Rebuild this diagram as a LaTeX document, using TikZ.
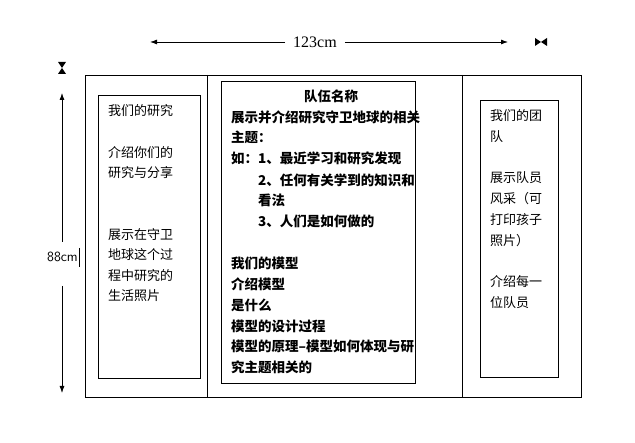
\documentclass[tikz,border=0pt]{standalone}
\usepackage{fontspec}
\usetikzlibrary{arrows.meta}
\newfontfamily\cjk{Noto Sans CJK SC}
\setmainfont{Liberation Serif}
\begin{document}
\begin{tikzpicture}[x=1pt,y=-1pt,
  t/.style={anchor=west,inner sep=0pt,font=\cjk\fontsize{13}{15}\selectfont},
  tb/.style={anchor=west,inner sep=0pt,font=\cjk\bfseries\fontsize{13.5}{15}\selectfont},
  box/.style={draw,line width=0.8pt},
  arr/.style={-{Latex[length=7pt,width=5pt]},line width=0.8pt}]
\useasboundingbox (0,0) rectangle (635,443);
% dimension arrows
\node[inner sep=0pt,font=\fontsize{16}{18}\selectfont] (w) at (315,42) {123cm};
\coordinate (wl) at (150,42); \coordinate (wr) at (508,42);
\draw[arr] ([xshift=-8pt]w.west) -- (wl);
\draw[arr] ([xshift=8pt]w.east) -- (wr);
\fill (535,38) -- (541,42) -- (535,46) -- cycle;
\fill (547,38) -- (541,42) -- (547,46) -- cycle;
\fill (58,62) -- (66,62) -- (62,68) -- cycle;
\fill (58,74) -- (66,74) -- (62,68) -- cycle;
\node[inner sep=0pt,anchor=east,font=\sffamily\fontsize{14}{16}\selectfont] (h) at (78,257) {88cm};
\draw[line width=1pt] (79,248) -- (79,267);
\coordinate (ht) at (62,93); \coordinate (hb) at (62,393);
\coordinate (hm1) at (62,242); \coordinate (hm2) at (62,286);
\draw[arr] (hm1) -- (ht);
\draw[arr] (hm2) -- (hb);
% boxes
\draw[box] (85,75) rectangle (581,397);
\draw[line width=0.8pt] (207,75) -- (207,397);
\draw[line width=0.8pt] (462,75) -- (462,397);
\draw[box] (98,95) rectangle (200,378);
\draw[box] (221,81) rectangle (415,383);
\draw[box] (480,100) rectangle (558,377);
% left text
\node[t] (l1) at (108,111) {我们的研究};
\node[t] (l2) at (108,153) {介绍你们的};
\node[t] (l3) at (108,173) {研究与分享};
\node[t] (l4) at (108,235) {展示在守卫};
\node[t] (l5) at (108,255) {地球这个过};
\node[t] (l6) at (108,276) {程中研究的};
\node[t] (l7) at (108,296) {生活照片};
% middle text
\node[tb,anchor=center] (m0) at (331,96) {队伍名称};
\node[tb] (m1) at (231,117) {展示并介绍研究守卫地球的相关};
\node[tb] (m2) at (231,137) {主题：};
\node[tb] (m3) at (231,158) {如：1、最近学习和研究发现};
\node[tb] (m4) at (258,180) {2、任何有关学到的知识和};
\node[tb] (m5) at (258,200) {看法};
\node[tb] (m6) at (258,221) {3、人们是如何做的};
\node[tb] (m7) at (231,263) {我们的模型};
\node[tb] (m8) at (231,284) {介绍模型};
\node[tb] (m9) at (231,305) {是什么};
\node[tb] (m10) at (231,326) {模型的设计过程};
\node[tb] (m11) at (231,346) {模型的原理–模型如何体现与研};
\node[tb] (m12) at (231,367) {究主题相关的};
% right text
\node[t] (r1) at (490,116) {我们的团};
\node[t] (r2) at (490,137) {队};
\node[t] (r3) at (490,178) {展示队员};
\node[t] (r4) at (490,199) {风采（可};
\node[t] (r5) at (490,220) {打印孩子};
\node[t] (r6) at (490,241) {照片）};
\node[t] (r7) at (490,282) {介绍每一};
\node[t] (r8) at (490,303) {位队员};
\end{tikzpicture}
\end{document}
